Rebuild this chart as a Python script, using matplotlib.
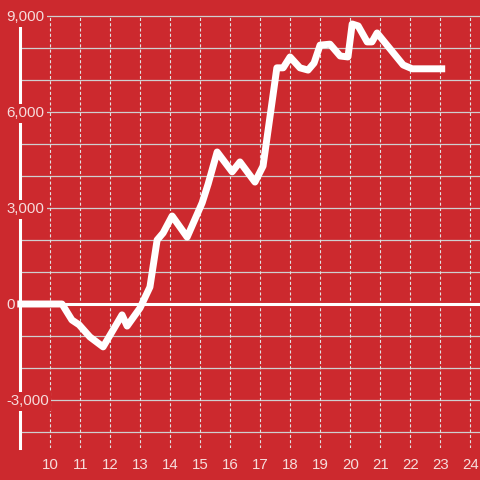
#%%
import matplotlib.pyplot as plt
import matplotlib.transforms as mtransforms

# cores
cor_fundo = '#cc292e'
cor_texto = '#f6dcdc'

# dados (hora do dia x resultado acumulado)
horas = [8.9, 10.39, 10.72, 10.96, 11.32, 11.76, 12.39, 12.56, 12.99, 13.32,
         13.56, 13.76, 14.06, 14.56, 15.06, 15.26, 15.56, 16.06, 16.32, 16.82,
         17.09, 17.55, 17.76, 17.99, 18.32, 18.59, 18.79, 18.99, 19.32, 19.66,
         19.92, 20.06, 20.26, 20.56, 20.72, 20.89, 21.76, 22.06, 23.16]
valores = [0, 0, -500, -650, -1030, -1340, -340, -690, -125, 530,
           2000, 2220, 2750, 2090, 3160, 3750, 4750, 4130, 4440, 3810,
           4310, 7380, 7380, 7720, 7380, 7310, 7530, 8090, 8120, 7750,
           7720, 8750, 8690, 8190, 8190, 8470, 7470, 7350, 7350]

ticks_x = list(range(10, 25))
grade_y = list(range(-4000, 9001, 1000))
rotulos_y = [9000, 6000, 3000, 0, -3000]

#%%
plt.rcParams['font.family'] = ['Liberation Sans', 'DejaVu Sans']
plt.rcParams['lines.scale_dashes'] = False

fig = plt.figure(figsize=(4.8, 4.8), dpi=100, facecolor=cor_fundo)
ax = fig.add_axes([20.3 / 480, 1 - 448 / 480, 1 - 20.3 / 480, 432 / 480])
ax.set_facecolor(cor_fundo)
ax.set_xlim(9, 24.32)
ax.set_ylim(-4500, 9000)

# grade horizontal (solida) e vertical (tracejada)
for v in grade_y:
    if v == 0:
        continue
    ax.axhline(v, color='#cfcfcf', linewidth=0.9, zorder=1, clip_on=False)
for h in ticks_x:
    ax.axvline(h, color='#e2e2e2', linewidth=0.8, dashes=(2.2, 1.6), zorder=1)

# linha do zero
ax.axhline(0, color='white', linewidth=2.2, zorder=2)

# serie principal
ax.plot(horas, valores, color='white', linewidth=5.0, solid_joinstyle='round',
        solid_capstyle='butt', zorder=4, clip_on=False)

for lado in ['top', 'right', 'bottom']:
    ax.spines[lado].set_visible(False)
ax.spines['left'].set_color('white')
ax.spines['left'].set_linewidth(2.2)
ax.spines['left'].set_zorder(2.5)

ax.set_xticks(ticks_x)
ax.set_xticklabels([str(h) for h in ticks_x])
ax.tick_params(axis='x', length=0, pad=7, labelsize=10.8, labelcolor=cor_texto)
ax.set_yticks([])

# rotulos do eixo y com fundo vermelho por cima do eixo
trans = mtransforms.blended_transform_factory(fig.transFigure, ax.transData)
for v in rotulos_y:
    ax.text(6 / 480, v - 170, f'{v:,}', transform=trans, ha='left', va='baseline',
            fontsize=10.8, color=cor_texto, zorder=3,
            bbox=dict(boxstyle='square,pad=0.18', facecolor=cor_fundo, edgecolor='none'))

fig.savefig('out.png', dpi=100, facecolor=cor_fundo)
